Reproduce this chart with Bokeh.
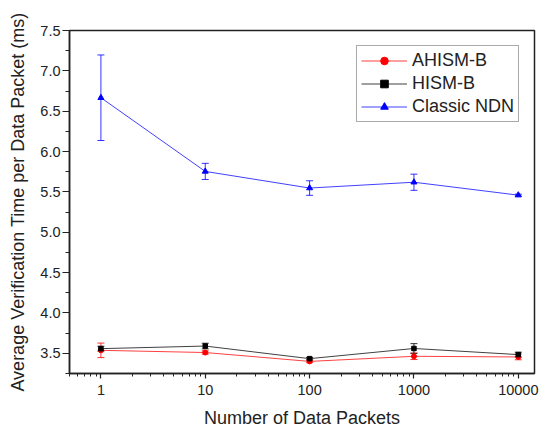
from bokeh.plotting import figure
from bokeh.models import (ColumnDataSource, Whisker, TeeHead, Legend, LegendItem,
                          FixedTicker, Range1d, PrintfTickFormatter)
from bokeh.embed import file_html
from bokeh.resources import INLINE

packets = [1, 10, 100, 1000, 10000]
tick_labels = ["1", "10", "100", "1000", "10000"]

ahism_mean = [3.537, 3.51, 3.40, 3.463, 3.455]
ahism_err = [0.09, 0.02, 0.015, 0.04, 0.035]
hism_mean = [3.558, 3.59, 3.434, 3.56, 3.484]
hism_err = [0.03, 0.035, 0.015, 0.06, 0.03]
ndn_mean = [6.667, 5.754, 5.548, 5.62, 5.46]
ndn_err = [0.53, 0.10, 0.09, 0.10, 0.012]

series = [
    ("AHISM-B", ahism_mean, ahism_err, "#FF0000", "circle", 5),
    ("HISM-B", hism_mean, hism_err, "#000000", "square", 4.5),
    ("Classic NDN", ndn_mean, ndn_err, "#0000FF", "triangle", 6),
]

FONT = "Liberation Sans"

p = figure(frame_width=465, frame_height=343, x_axis_type="log",
           x_range=Range1d(0.5, 14300), y_range=Range1d(3.25, 7.5),
           output_backend="svg", toolbar_location=None,
           min_border_left=69, min_border_right=11, min_border_top=30, min_border_bottom=56)

p.xgrid.visible = False
p.ygrid.visible = False
p.outline_line_color = "#222222"
p.outline_line_width = 1.5

minor = []
for dec in [0.1, 1, 10, 100, 1000, 10000]:
    for k in range(2, 10):
        minor.append(dec * k)
p.xaxis.ticker = FixedTicker(ticks=packets, minor_ticks=minor)
p.xaxis.major_label_overrides = {v: s for v, s in zip(packets, tick_labels)}

yt = [3.5 + 0.5 * i for i in range(9)]
yminor = [3.25 + 0.25 * i for i in range(18)]
p.yaxis.ticker = FixedTicker(ticks=yt, minor_ticks=yminor)
p.yaxis.formatter = PrintfTickFormatter(format="%.1f")

for ax in [p.xaxis[0], p.yaxis[0]]:
    ax.axis_line_width = 1.5
    ax.axis_line_color = "#222222"
    ax.major_tick_line_color = "#222222"
    ax.minor_tick_line_color = "#222222"
    ax.major_tick_line_width = 1.2
    ax.major_tick_in = 0
    ax.minor_tick_in = 0
    ax.major_label_text_font = FONT
    ax.major_label_text_font_size = "14.5px"
    ax.major_label_text_color = "#222222"
    ax.axis_label_text_font = FONT
    ax.axis_label_text_font_size = "18px"
    ax.axis_label_text_font_style = "normal"
    ax.axis_label_text_color = "#222222"

p.yaxis.major_tick_out = 7
p.yaxis.minor_tick_out = 4
p.xaxis.major_tick_out = 5
p.xaxis.minor_tick_out = 3

p.xaxis.axis_label = "Number of Data Packets"
p.yaxis.axis_label = "Average Verification Time per Data Packet (ms)"
p.xaxis.major_label_standoff = 6
p.xaxis.axis_label_standoff = 10
p.yaxis.major_label_standoff = 2
p.yaxis.axis_label_standoff = 9

items = []
for name, mean, err, color, marker, size in series:
    src = ColumnDataSource(dict(x=packets, y=mean,
                                lo=[m - e for m, e in zip(mean, err)],
                                hi=[m + e for m, e in zip(mean, err)]))
    ln = p.line("x", "y", source=src, line_color=color, line_width=1, line_alpha=0.75)
    w = Whisker(base="x", lower="lo", upper="hi", source=src, dimension="height",
                line_color=color, line_width=1, line_alpha=0.8,
                upper_head=TeeHead(size=7, line_color=color, line_width=1, line_alpha=0.8),
                lower_head=TeeHead(size=7, line_color=color, line_width=1, line_alpha=0.8))
    p.add_layout(w)
    sc = p.scatter("x", "y", source=src, marker=marker, size=size,
                   fill_color=color, line_color=color)
    items.append(LegendItem(label=name, renderers=[ln, sc]))

legend = Legend(items=items, location="top_right", margin=15,
                label_text_font=FONT, label_text_font_size="18px",
                label_text_color="#222222",
                glyph_width=46, glyph_height=19, label_height=19,
                spacing=2, padding=4, label_standoff=5,
                border_line_color="#555555", border_line_width=1,
                background_fill_alpha=1.0)
p.add_layout(legend, "center")

open("out.html", "w").write(file_html(p, INLINE))
